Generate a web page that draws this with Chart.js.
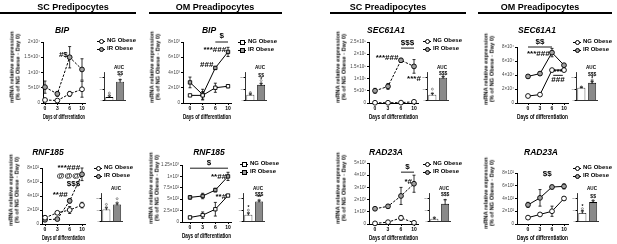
<!DOCTYPE html>
<html>
<head>
<meta charset="utf-8">
<script src="https://cdn.jsdelivr.net/npm/chart.js@4/dist/chart.umd.min.js"></script>
<style>
  body { margin: 0; background: #fff; }
  #fig { position: relative; width: 617px; height: 244px; overflow: hidden; font-family: "Liberation Sans", Arial, sans-serif; color: #000; background: #fff; filter: grayscale(1); }
  .hd, .gene, .auc, .lg, .yt { will-change: transform; }
  .hd { position: absolute; font-weight: bold; font-size: 9px; transform: translate(-50%, -50%); white-space: nowrap; }
  .rule { position: absolute; height: 2px; background: #000; }
  .gene { position: absolute; font-weight: bold; font-style: italic; font-size: 8.5px; transform: translate(-50%, -50%); white-space: nowrap; }
  .auc { position: absolute; font-weight: bold; font-size: 4.6px; transform: translate(-50%, -50%); }
  .lg { position: absolute; font-weight: bold; font-size: 6px; white-space: nowrap; line-height: 7px; }
  .yt { position: absolute; font-weight: bold; font-size: 5.8px; line-height: 6.4px; text-align: center; white-space: nowrap; transform: translate(-50%, -50%) rotate(-90deg); }
  .mk { position: absolute; width: 8px; height: 5px; }
  .mk .ln { position: absolute; left: 0; right: 0; top: 2px; border-top: 1px solid #000; }
  .mk .pt { position: absolute; left: 2px; top: 0; width: 3px; height: 3px; border: 1px solid #000; background: #fff; }
</style>
</head>
<body>
<div id="fig"></div>
<script>
// ---- data ----
const days = ['0', '3', '6', '10'];
const groups = ['NG Obese', 'IR Obese'];
const genes = ['BIP', 'BIP', 'SEC61A1', 'SEC61A1', 'RNF185', 'RNF185', 'RAD23A', 'RAD23A'];
const depots = ['SC', 'OM', 'SC', 'OM', 'SC', 'OM', 'SC', 'OM'];
const yTitle = ['mRNA relative expression', '(% of NG Obese - Day 0)'];

const ngMean = [
  [1000, 800, 3000, 4500],
  [1000, 1000, 2000, 2200],
  [1000, 1000, 1500, 5000],
  [10000, 12000, 47000, 47000],
  [90, 160, 200, 270],
  [100, 150, 280, 580],
  [50, 150, 500, 100],
  [100, 150, 200, 400]
];
const ngErr = [
  [0, 0, 800, 2600],
  [0, 500, 600, 200],
  [0, 0, 0, 2500],
  [1500, 1000, 1000, 1500],
  [30, 20, 50, 40],
  [30, 70, 150, 20],
  [0, 0, 200, 0],
  [10, 10, 80, 30]
];
const irMean = [
  [5200, 3000, 15000, 11000],
  [2700, 1100, 4600, 6700],
  [50000, 68000, 175000, 150000],
  [38000, 42000, 72000, 54000],
  [60, 70, 330, 710],
  [540, 570, 700, 1000],
  [1250, 1450, 2300, 3300],
  [300, 410, 580, 590]
];
const irErr = [
  [2000, 800, 3500, 3500],
  [700, 700, 200, 600],
  [10000, 12000, 8000, 28000],
  [2500, 2500, 6000, 2500],
  [20, 10, 30, 90],
  [40, 60, 40, 90],
  [100, 150, 700, 700],
  [40, 130, 30, 40]
];
const yMax = [20000, 8000, 250000, 80000, 800, 1250, 5000, 800];
const yStep = [5000, 2000, 50000, 20000, 200, 250, 1000, 200];

// AUC, as percent of each inset's axis
const aucNG = [12, 20, 20, 45, 42, 24, 10, 30];
const aucNGErr = [4, 3, 5, 2, 6, 6, 3, 8];
const aucIR = [66, 55, 80, 62, 60, 70, 62, 68];
const aucIRErr = [8, 5, 4, 5, 5, 5, 15, 5];
const aucNGDots = [[4, 8, 18, 26], [14, 18, 24, 28], [8, 15, 25, 40], [42, 45, 48], [15, 35, 50, 60], [12, 20, 30, 40], [5, 8, 14], [18, 25, 35, 45]];
const aucIRDots = [[45, 58, 72, 88], [45, 52, 60, 70], [72, 78, 85], [55, 60, 68, 72], [48, 58, 66, 80], [62, 68, 75], [35, 55, 75], [60, 66, 74]];
const aucSig = [
  [{ x: 1, y: 94, t: '$$' }],
  [{ x: 1, y: 88, t: '$$' }, { x: 1, y: 74, t: '*' }],
  [{ x: 1, y: 96, t: '$$$' }],
  [{ x: 1, y: 90, t: '$$$' }, { x: 1, y: 78, t: '*' }],
  [],
  [{ x: 1, y: 96, t: '$$$' }, { x: 1, y: 84, t: '**' }, { x: 0, y: 48, t: '*' }],
  [{ x: 1, y: 94, t: '$$$' }],
  [{ x: 1, y: 88, t: '$$' }, { x: 0, y: 52, t: '*' }]
];

// significance marks on the time courses (x = day index, y = value)
const notes = [
  [{ x: 1.85, y: 15800, t: '#$', a: 'right' }],
  [{ x: 1.85, y: 5000, t: '###', a: 'right' }, { x: 2.85, y: 6950, t: '***###', a: 'right' },
   { x1: 2, x2: 3, y: 8000 }, { x: 2.5, y: 8750, t: '$' }],
  [{ x: 1.8, y: 186000, t: '***###', a: 'right' }, { x1: 2, x2: 3, y: 225000 },
   { x: 2.5, y: 246000, t: '$$$' }, { x: 3, y: 100000, t: '***#' }],
  [{ x1: 0, x2: 2, y: 80000 }, { x: 1, y: 87000, t: '$$' }, { x: 1.8, y: 71000, t: '***###', a: 'right' },
   { x: 2.5, y: 44000, t: '***' }, { x1: 2.1, x2: 2.9, y: 39500 }, { x: 2.5, y: 33000, t: '###' }],
  [{ x: 2.85, y: 800, t: '***###', a: 'right' }, { x: 2.85, y: 690, t: '@@@', a: 'right' },
   { x: 2.85, y: 580, t: '$$$', a: 'right' }, { x: 1.85, y: 420, t: '**##', a: 'right' }],
  [{ x1: 0, x2: 3, y: 1180 }, { x: 1.5, y: 1290, t: '$' }, { x: 2.85, y: 990, t: '**##', a: 'right' },
   { x: 2.85, y: 560, t: '**#', a: 'right' }],
  [{ x1: 2, x2: 3, y: 4250 }, { x: 2.5, y: 4700, t: '$' }, { x: 2.85, y: 3450, t: '*#', a: 'right' }],
  [{ x: 1.6, y: 790, t: '$$' }]
];

// ---- layout (pixels) ----
// axis: y-axis x, p0/p3: x of day 0 / day 10, right: end of x axis, top: top tick y, zero: y of 0
const lay = [
  { axis: 43, p0: 45, p3: 82, right: 85, top: 42, zero: 103 },
  { axis: 183, p0: 190, p3: 228, right: 231, top: 42, zero: 103 },
  { axis: 369, p0: 375, p3: 414, right: 418, top: 42, zero: 103 },
  { axis: 517, p0: 528, p3: 564, right: 568, top: 47, zero: 103 },
  { axis: 42, p0: 45, p3: 82, right: 85, top: 168, zero: 224 },
  { axis: 182, p0: 190, p3: 228, right: 231, top: 165, zero: 222 },
  { axis: 369, p0: 375, p3: 414, right: 418, top: 163, zero: 224 },
  { axis: 517, p0: 528, p3: 564, right: 568, top: 173, zero: 224 }
];
const geneXY = [[62, 30], [209, 30], [386, 30], [537, 30], [48, 152], [209, 152], [386, 152], [541, 152]];
const legXY = [[97, 38], [238, 39], [423, 38], [573, 39], [94, 165], [240, 161], [423, 161], [573, 165]];
const aucLay = [
  { axis: 104, right: 129, top: 72, bottom: 104 },
  { axis: 245, right: 270, top: 72, bottom: 104 },
  { axis: 427, right: 452, top: 72, bottom: 104 },
  { axis: 576, right: 601, top: 72, bottom: 104 },
  { axis: 101, right: 126, top: 193, bottom: 225 },
  { axis: 243, right: 268, top: 193, bottom: 225 },
  { axis: 429, right: 454, top: 193, bottom: 225 },
  { axis: 577, right: 602, top: 193, bottom: 225 }
];

const FONT = '"Liberation Sans", Arial, sans-serif';
Chart.defaults.font.family = FONT;
Chart.defaults.color = '#000';
Chart.defaults.animation = false;

const fig = document.getElementById('fig');

function mkCanvas(x, y, w, h) {
  const c = document.createElement('canvas');
  c.width = Math.round(w);
  c.height = Math.round(h);
  c.style.cssText = 'position:absolute;left:' + Math.round(x) + 'px;top:' + Math.round(y) + 'px;width:' + c.width + 'px;height:' + c.height + 'px';
  fig.appendChild(c);
  return c;
}

function addDiv(cls, x, y, html) {
  const d = document.createElement('div');
  d.className = cls;
  d.style.left = x + 'px';
  d.style.top = y + 'px';
  d.innerHTML = html;
  fig.appendChild(d);
  return d;
}

const SUP = { '0': '⁰', '1': '¹', '2': '²', '3': '³', '4': '⁴', '5': '⁵', '6': '⁶', '7': '⁷', '8': '⁸', '9': '⁹' };
function sci(v) {
  if (v === 0) return '0';
  const e = Math.floor(Math.log10(v) + 1e-9);
  const m = Math.round(v / Math.pow(10, e) * 100) / 100;
  return m + '×10' + String(e).split('').map(c => SUP[c]).join('');
}

// mean ± error whiskers
const errBars = {
  id: 'errBars',
  beforeDatasetsDraw(chart) {
    const ctx = chart.ctx;
    ctx.save();
    ctx.strokeStyle = '#000';
    ctx.lineWidth = 0.8;
    chart.data.datasets.forEach((ds, j) => {
      if (!ds.err) return;
      const meta = chart.getDatasetMeta(j);
      const ys = chart.scales[meta.yAxisID];
      ds.data.forEach((d, k) => {
        const v = typeof d === 'object' ? d.y : d;
        const e = ds.err[k];
        if (!e) return;
        const x = meta.data[k].x;
        const y1 = ys.getPixelForValue(v + e), y2 = ys.getPixelForValue(v - e);
        ctx.beginPath();
        ctx.moveTo(x, y1); ctx.lineTo(x, y2);
        ctx.moveTo(x - 1.5, y1); ctx.lineTo(x + 1.5, y1);
        ctx.moveTo(x - 1.5, y2); ctx.lineTo(x + 1.5, y2);
        ctx.stroke();
      });
    });
    ctx.restore();
  }
};

function notePlugin(list, size) {
  return {
    id: 'notes',
    afterDraw(chart) {
      const ctx = chart.ctx, xs = chart.scales.x, ys = chart.scales.y;
      ctx.save();
      ctx.fillStyle = '#000';
      ctx.strokeStyle = '#000';
      ctx.lineWidth = 0.9;
      ctx.font = 'bold ' + size + 'px ' + FONT;
      ctx.textBaseline = 'middle';
      list.forEach(n => {
        if (n.t === undefined) {
          const y = ys.getPixelForValue(n.y);
          ctx.beginPath();
          ctx.moveTo(xs.getPixelForValue(n.x1), y);
          ctx.lineTo(xs.getPixelForValue(n.x2), y);
          ctx.stroke();
        } else {
          ctx.textAlign = n.a || 'center';
          ctx.fillText(n.t, xs.getPixelForValue(n.x), ys.getPixelForValue(n.y));
        }
      });
      ctx.restore();
    }
  };
}

function lineChart(i) {
  const L = lay[i];
  const padTop = 14, yW = 38, xH = 18, padR = 14;
  const cv = mkCanvas(L.axis - yW, L.top - padTop, L.right - L.axis + yW + padR, L.zero - L.top + padTop + xH);
  const unit = (L.p3 - L.p0) / 3;
  const sc = depots[i] === 'SC';
  const shape = (i === 1 || i === 5) ? 'rect' : 'circle';
  const series = (vals, err, label, fill) => ({
    label: label,
    data: vals.map((v, k) => ({ x: k, y: v })),
    err: err,
    borderColor: '#000',
    borderWidth: 1,
    borderDash: sc ? [2.5, 1.5] : [],
    pointStyle: shape,
    pointRadius: 2.4,
    pointBackgroundColor: fill,
    pointBorderColor: '#000',
    pointBorderWidth: 0.9,
    clip: false
  });
  new Chart(cv, {
    type: 'line',
    data: {
      datasets: [
        series(ngMean[i], ngErr[i], groups[0], '#fff'),
        series(irMean[i], irErr[i], groups[1], '#a0a0a0')
      ]
    },
    options: {
      responsive: false,
      animation: false,
      layout: { padding: { top: padTop, right: padR, left: 0, bottom: 0 } },
      plugins: { legend: { display: false }, tooltip: { enabled: false } },
      scales: {
        x: {
          type: 'linear',
          min: -(L.p0 - L.axis) / unit,
          max: 3 + (L.right - L.p3) / unit,
          afterBuildTicks: s => { s.ticks = days.map((d, k) => ({ value: k })); },
          afterFit: s => { s.height = xH; },
          ticks: { callback: v => days[v], font: { size: 5, weight: 'bold' }, padding: 1, maxRotation: 0, autoSkip: false },
          grid: { drawOnChartArea: false, tickLength: 2, color: '#000' },
          border: { color: '#000', width: 1 },
          title: { display: true, text: 'Days of differentiation', font: { size: 6.8, weight: 'bold' }, padding: { top: 0, bottom: 0 } }
        },
        y: {
          min: 0,
          max: yMax[i],
          afterFit: s => { s.width = yW; },
          ticks: { stepSize: yStep[i], callback: sci, font: { size: 4.5 }, color: '#444', padding: 1 },
          grid: { drawOnChartArea: false, tickLength: 2, color: '#000' },
          border: { color: '#000', width: 1 }
        }
      }
    },
    plugins: [errBars, notePlugin(notes[i], 8)]
  });
  addDiv('yt', L.axis - 28, (L.top + L.zero) / 2 - 6, yTitle.join('<br>'));
}

function aucChart(i) {
  const A = aucLay[i];
  const padTop = 6, yW = 12;
  const cv = mkCanvas(A.axis - yW, A.top - padTop, A.right - A.axis + yW + 1, A.bottom - A.top + padTop + 1);
  const dots = aucNGDots[i].map(v => ({ x: groups[0], y: v })).concat(aucIRDots[i].map(v => ({ x: groups[1], y: v })));
  new Chart(cv, {
    type: 'bar',
    data: {
      labels: groups,
      datasets: [
        {
          type: 'bar',
          data: [aucNG[i], aucIR[i]],
          err: [aucNGErr[i], aucIRErr[i]],
          backgroundColor: ['#ffffff', '#8a8a8a'],
          borderColor: '#000',
          borderWidth: 0.8,
          barPercentage: 0.78,
          categoryPercentage: 0.95
        },
        {
          type: 'line',
          data: dots,
          showLine: false,
          pointRadius: 1,
          pointBorderWidth: 0.5,
          pointBorderColor: '#333',
          pointBackgroundColor: 'rgba(255,255,255,0)',
          clip: false
        }
      ]
    },
    options: {
      responsive: false,
      animation: false,
      layout: { padding: { top: padTop, right: 1, left: 0, bottom: 0 } },
      plugins: { legend: { display: false }, tooltip: { enabled: false } },
      scales: {
        x: {
          afterFit: s => { s.height = 1; },
          ticks: { display: false },
          grid: { display: false },
          border: { color: '#000', width: 0.8 }
        },
        y: {
          min: 0,
          max: 100,
          afterFit: s => { s.width = yW; },
          ticks: { stepSize: 20, font: { size: 2.5 }, color: '#555', padding: 0.5 },
          grid: { drawOnChartArea: false, tickLength: 1.5, color: '#000' },
          border: { color: '#000', width: 0.8 }
        }
      }
    },
    plugins: [errBars, notePlugin(aucSig[i], 5)]
  });
}

function legend(i) {
  const [x, y] = legXY[i];
  const sq = (i === 1 || i === 5);
  groups.forEach((g, k) => {
    const top = y + k * 7.5;
    const mk = addDiv('mk', x, top + 1, '<span class="ln"></span><span class="pt"></span>');
    const pt = mk.querySelector('.pt');
    pt.style.borderRadius = sq ? '0' : '50%';
    pt.style.background = k === 0 ? '#fff' : '#a0a0a0';
    if (depots[i] === 'SC') mk.querySelector('.ln').style.borderTopStyle = 'dashed';
    addDiv('lg', x + 10, top - 1, g);
  });
}

// headers
[['SC Predipocytes', 73, 0, 136], ['OM Preadipocytes', 215, 149, 282],
 ['SC Preadipocytes', 388, 330, 466], ['OM Preadipocytes', 540, 478, 612]].forEach(h => {
  addDiv('hd', h[1], 7, h[0]);
  const r = addDiv('rule', h[2], 12, '');
  r.style.width = (h[3] - h[2]) + 'px';
});

for (let i = 0; i < 8; i++) {
  addDiv('gene', geneXY[i][0], geneXY[i][1], genes[i]);
  lineChart(i);
  legend(i);
  const A = aucLay[i];
  addDiv('auc', (A.axis + A.right) / 2 + 2, A.top - 5, 'AUC');
  aucChart(i);
}
</script>
</body>
</html>
